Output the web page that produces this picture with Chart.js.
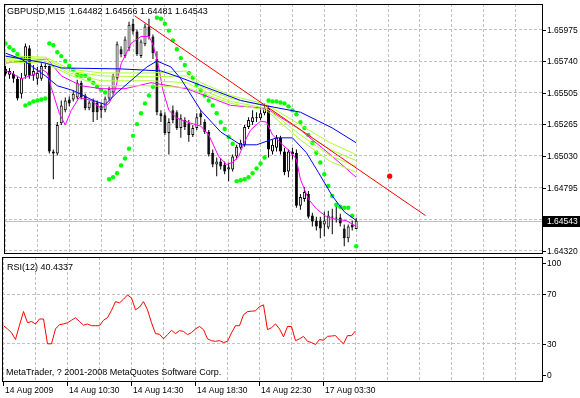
<!DOCTYPE html>
<html>
<head>
<meta charset="utf-8">
<script src="https://cdn.jsdelivr.net/npm/chart.js@4.4.0/dist/chart.umd.min.js"></script>
<style>
  html, body { margin: 0; padding: 0; background: #fff; }
  #wrap { position: relative; width: 580px; height: 398px; overflow: hidden; }
  canvas { position: absolute; left: 0; }
  #priceCanvas { top: 0; }
  #rsiCanvas { top: 256px; }
</style>
</head>
<body>
<div id="wrap">
  <canvas id="priceCanvas" width="580" height="257"></canvas>
  <canvas id="rsiCanvas" width="580" height="142"></canvas>
</div>
<script>
// GBPUSD M15 bars, 14 Aug 2009 06:30 onwards
const symbol = "GBPUSD,M15";

const opens = [
  1.65680, 1.65636, 1.65643, 1.65606, 1.65495, 1.65628, 1.65835, 1.65628, 1.65606, 1.65606,
  1.65702, 1.65702, 1.65061, 1.65046, 1.65274, 1.65370, 1.65451, 1.65451, 1.65466, 1.65577,
  1.65481, 1.65385, 1.65444, 1.65429, 1.65407, 1.65370, 1.65459, 1.65503, 1.65614, 1.65827,
  1.65776, 1.65835, 1.66019, 1.65960, 1.65776, 1.65864, 1.65997, 1.65923, 1.65754, 1.65348,
  1.65333, 1.65201, 1.65370, 1.65356, 1.65238, 1.65297, 1.65274, 1.65186, 1.65238, 1.65348,
  1.65282, 1.65208, 1.65053, 1.64965, 1.64987, 1.64965, 1.64928, 1.64928, 1.65024, 1.65090,
  1.65112, 1.65245, 1.65282, 1.65319, 1.65311, 1.65348, 1.65385, 1.65061, 1.65090, 1.65164,
  1.65061, 1.64913, 1.65061, 1.65053, 1.64655, 1.64707, 1.64744, 1.64582, 1.64545, 1.64545,
  1.64515, 1.64493, 1.64574, 1.64560, 1.64567, 1.64486, 1.64412, 1.64515, 1.64482
];
const highs = [
  1.65702, 1.65687, 1.65665, 1.65628, 1.65650, 1.65871, 1.65857, 1.65709, 1.65695, 1.65724,
  1.65724, 1.65717, 1.65076, 1.65282, 1.65444, 1.65466, 1.65473, 1.65518, 1.65599, 1.65591,
  1.65495, 1.65444, 1.65459, 1.65444, 1.65429, 1.65473, 1.65547, 1.65643, 1.65886, 1.65849,
  1.65923, 1.66034, 1.66056, 1.65975, 1.65901, 1.66019, 1.66056, 1.65938, 1.65813, 1.65370,
  1.65356, 1.65311, 1.65407, 1.65370, 1.65341, 1.65319, 1.65297, 1.65260, 1.65348, 1.65370,
  1.65304, 1.65223, 1.65076, 1.65017, 1.65009, 1.64987, 1.64980, 1.65039, 1.65112, 1.65149,
  1.65260, 1.65319, 1.65370, 1.65356, 1.65392, 1.65422, 1.65407, 1.65149, 1.65186, 1.65179,
  1.65090, 1.65076, 1.65090, 1.65076, 1.64744, 1.64795, 1.64766, 1.64604, 1.64574, 1.64574,
  1.64611, 1.64619, 1.64633, 1.64655, 1.64596, 1.64515, 1.64515, 1.64545, 1.64566
];
const lows = [
  1.65628, 1.65606, 1.65577, 1.65444, 1.65459, 1.65606, 1.65606, 1.65591, 1.65562, 1.65591,
  1.65680, 1.65046, 1.64854, 1.65031, 1.65260, 1.65356, 1.65400, 1.65437, 1.65451, 1.65451,
  1.65370, 1.65370, 1.65282, 1.65297, 1.65311, 1.65356, 1.65444, 1.65488, 1.65599, 1.65768,
  1.65761, 1.65813, 1.65938, 1.65776, 1.65761, 1.65849, 1.65901, 1.65754, 1.65333, 1.65282,
  1.65186, 1.65039, 1.65274, 1.65223, 1.65164, 1.65223, 1.65134, 1.65171, 1.65223, 1.65260,
  1.65193, 1.65024, 1.64943, 1.64876, 1.64928, 1.64891, 1.64840, 1.64913, 1.65002, 1.65076,
  1.65098, 1.65230, 1.65260, 1.65282, 1.65297, 1.65333, 1.65017, 1.65039, 1.65061, 1.65039,
  1.64884, 1.64869, 1.65002, 1.64641, 1.64626, 1.64685, 1.64560, 1.64501, 1.64471, 1.64412,
  1.64427, 1.64479, 1.64442, 1.64530, 1.64501, 1.64353, 1.64383, 1.64471, 1.64481
];
const closes = [
  1.65643, 1.65665, 1.65606, 1.65459, 1.65614, 1.65849, 1.65628, 1.65665, 1.65650, 1.65702,
  1.65695, 1.65061, 1.65046, 1.65260, 1.65407, 1.65444, 1.65422, 1.65495, 1.65577, 1.65466,
  1.65385, 1.65429, 1.65356, 1.65356, 1.65370, 1.65459, 1.65532, 1.65628, 1.65864, 1.65790,
  1.65901, 1.66011, 1.65960, 1.65790, 1.65886, 1.65997, 1.65923, 1.65798, 1.65356, 1.65326,
  1.65201, 1.65282, 1.65297, 1.65238, 1.65311, 1.65245, 1.65186, 1.65238, 1.65319, 1.65319,
  1.65208, 1.65039, 1.64965, 1.64987, 1.64950, 1.64913, 1.64943, 1.65024, 1.65098, 1.65127,
  1.65245, 1.65297, 1.65319, 1.65311, 1.65348, 1.65385, 1.65076, 1.65112, 1.65164, 1.65061,
  1.64906, 1.65061, 1.65039, 1.64655, 1.64722, 1.64759, 1.64574, 1.64538, 1.64501, 1.64486,
  1.64545, 1.64582, 1.64567, 1.64567, 1.64523, 1.64412, 1.64501, 1.64493, 1.64543
];

// Parabolic SAR, one dot per bar
const sarValues = [
  1.65871, 1.65842, 1.65820, 1.65790, 1.65761, 1.65407, 1.65422, 1.65437, 1.65444, 1.65451,
  1.65459, 1.65871, 1.65857, 1.65805, 1.65776, 1.65739, 1.65702, 1.65672, 1.65636, 1.65628,
  1.65628, 1.65606, 1.65577, 1.65547, 1.65525, 1.65503, 1.64854, 1.64869, 1.64899, 1.64957,
  1.65009, 1.65083, 1.65179, 1.65267, 1.65348, 1.65422, 1.65481, 1.65547, 1.66063, 1.66056,
  1.66019, 1.65967, 1.65894, 1.65827, 1.65761, 1.65709, 1.65650, 1.65614, 1.65562, 1.65518,
  1.65481, 1.65444, 1.65407, 1.65348, 1.65282, 1.65230, 1.65171, 1.65120, 1.64840, 1.64847,
  1.64854, 1.64869, 1.64899, 1.64935, 1.64972, 1.65017, 1.65444, 1.65437, 1.65437, 1.65429,
  1.65422, 1.65400, 1.65370, 1.65341, 1.65282, 1.65238, 1.65186, 1.65127, 1.65053, 1.64980,
  1.64891, 1.64803, 1.64729, 1.64663, 1.64648, 1.64641, 1.64641, 1.64582, 1.64353
];

// moving averages: [bar, price] vertices
const blueSlow = [[0, 1.65776], [10, 1.65724], [14, 1.65687], [29, 1.65680], [39, 1.65665], [44, 1.65614],
  [59, 1.65444], [65, 1.65407], [74, 1.65356], [82, 1.65238], [88, 1.65127]];
const blueFast = [[0, 1.65798], [4, 1.65754], [10, 1.65628], [13, 1.65554], [17, 1.65518], [22, 1.65444],
  [25, 1.65414], [28, 1.65503], [32, 1.65606], [35.5, 1.65695], [38, 1.65739], [41.5, 1.65695],
  [44, 1.65606], [49, 1.65370], [54, 1.65208], [59, 1.65112], [63, 1.65112], [68, 1.65164],
  [72, 1.65164], [75.5, 1.65053], [78.5, 1.64906], [82, 1.64729], [85, 1.64611], [88, 1.64545]];
const magentaFast = [[0, 1.65665], [1.5, 1.65650], [4, 1.65606], [7.5, 1.65643], [9, 1.65680], [10.5, 1.65650],
  [11.5, 1.65540], [13.5, 1.65348], [15, 1.65260], [16.5, 1.65370], [18.5, 1.65466], [21.5, 1.65444],
  [24, 1.65385], [26, 1.65422], [27.5, 1.65518], [29, 1.65717], [31.5, 1.65871], [34, 1.65923],
  [36, 1.65923], [37, 1.65864], [38.5, 1.65687], [39.5, 1.65518], [41, 1.65370], [43, 1.65311],
  [46.5, 1.65274], [49, 1.65252], [51, 1.65186], [53.5, 1.65024], [55.5, 1.64965], [57, 1.64980],
  [58.5, 1.65024], [60, 1.65134], [61.5, 1.65223], [64, 1.65289], [65.5, 1.65282], [67, 1.65186],
  [69.5, 1.65112], [71.5, 1.65061], [73, 1.65002], [74, 1.64854], [76, 1.64707], [78, 1.64633],
  [80.5, 1.64574], [83, 1.64553], [85.5, 1.64545], [88, 1.64501]];
const magentaSlow = [[0, 1.65724], [10.5, 1.65754], [14, 1.65628], [19, 1.65554], [24, 1.65532], [30, 1.65532],
  [36.5, 1.65577], [45.5, 1.65532], [56.5, 1.65407], [65.5, 1.65385], [74, 1.65223], [81.5, 1.65039],
  [88, 1.64869]];
const green1 = [[0, 1.65776], [10, 1.65768], [16, 1.65680], [24, 1.65650], [36.5, 1.65650], [45.5, 1.65665],
  [49, 1.65577], [56.5, 1.65481], [65.5, 1.65414], [74, 1.65260], [81.5, 1.65127], [88, 1.65039]];
const green2 = [[0, 1.65761], [10, 1.65754], [16, 1.65665], [24, 1.65628], [36.5, 1.65621], [45.5, 1.65628],
  [49, 1.65547], [56.5, 1.65459], [65.5, 1.65400], [74, 1.65223], [81.5, 1.65076], [88, 1.64994]];
const green3 = [[0, 1.65746], [10, 1.65739], [16, 1.65650], [24, 1.65591], [36.5, 1.65591], [45.5, 1.65577],
  [49, 1.65525], [56.5, 1.65437], [65.5, 1.65385], [74, 1.65186], [81.5, 1.65031], [88, 1.64950]];
const green4 = [[0, 1.65731], [10, 1.65724], [16, 1.65636], [24, 1.65554], [36.5, 1.65554], [45.5, 1.65540],
  [49, 1.65503], [56.5, 1.65422], [65.5, 1.65370], [74, 1.65149], [81.5, 1.64987], [88, 1.64906]];

// trend line and the single red marker
const trendLine = [[32.4, 1.66078], [105.4, 1.64582]];
const redMarker = [[96.4, 1.64877]];

const rsiPeriod = 12;
const rsiValues = [
  44.6, 42.0, 39.0, 33.5, 45.0, 56.0, 47.0, 48.0, 46.0, 50.0,
  50.0, 30.0, 30.0, 42.0, 45.5, 46.0, 47.0, 49.0, 51.0, 48.0,
  45.0, 46.0, 44.6, 44.6, 44.6, 49.0, 51.0, 57.0, 64.0, 63.0,
  66.0, 69.4, 67.0, 57.4, 59.6, 64.0, 57.4, 47.0, 38.2, 37.7,
  34.0, 37.4, 40.9, 38.2, 40.6, 40.0, 37.4, 39.0, 42.0, 44.0,
  41.4, 34.0, 32.5, 32.0, 32.6, 31.0, 32.0, 38.8, 44.6, 44.6,
  53.4, 56.0, 56.3, 56.6, 60.0, 61.4, 41.4, 43.0, 46.0, 42.0,
  35.6, 44.0, 44.0, 32.5, 34.0, 36.0, 32.0, 31.0, 29.4, 33.4,
  32.9, 36.0, 36.3, 36.6, 33.0, 30.0, 36.6, 36.6, 40.4337
];

// axes
const gridBars = [0, 8, 16, 24, 32, 40, 48, 56, 64, 72, 80, 88, 96, 104, 112, 120, 128];
const timeLabelBars = [0, 16, 32, 48, 64, 80];
const timeLabels = ["14 Aug 2009", "14 Aug 10:30", "14 Aug 14:30", "14 Aug 18:30", "14 Aug 22:30", "17 Aug 03:30"];
const priceTicks = [1.65975, 1.65738, 1.65502, 1.65265, 1.65029, 1.64792, 1.64555, 1.64319];
const priceTickLabels = ["1.65975", "1.65740", "1.65505", "1.65265", "1.65030", "1.64795", "1.64560", "1.64320"];
const rsiTicks = [100, 70, 30, 0];
const rsiGridLevels = [70, 30];

const GRID = "#c0c0c0";
const FONT_FAMILY = '"Liberation Sans", Arial, sans-serif';
const LABEL_FONT = "9px " + FONT_FAMILY;
const AXIS_FONT = "8.5px " + FONT_FAMILY;
const last = closes.length - 1;

function lineSet(pairs, color) {
  return {
    type: "line",
    data: pairs.map((p) => ({ x: p[0], y: p[1] })),
    borderColor: color,
    borderWidth: 1,
    pointRadius: 0,
    tension: 0,
    fill: false,
    order: 0,
  };
}

function xScale() {
  return {
    type: "linear",
    min: -0.375,
    max: 134.625,
    offset: false,
    afterBuildTicks: (s) => { s.ticks = gridBars.map((v) => ({ value: v })); },
    afterFit: (s) => { s.height = 0; },
    ticks: { display: false },
    grid: { color: GRID, drawTicks: false, offset: false },
    border: { display: false, dash: [3, 2] },
  };
}

const priceDecor = {
  id: "priceDecor",
  beforeDatasetsDraw(chart) {
    // current bid line
    const { ctx, chartArea: a, scales: { y } } = chart;
    const py = Math.round(y.getPixelForValue(closes[last])) + 0.5;
    ctx.save();
    ctx.strokeStyle = GRID;
    ctx.lineWidth = 1;
    ctx.beginPath();
    ctx.moveTo(a.left, py);
    ctx.lineTo(a.right, py);
    ctx.stroke();
    ctx.restore();
  },
  afterDraw(chart) {
    const { ctx, chartArea: a, scales: { y } } = chart;
    ctx.save();
    ctx.strokeStyle = "#000";
    ctx.lineWidth = 1;
    ctx.strokeRect(a.left + 0.5, a.top + 0.5, a.right - a.left, a.bottom - a.top);

    ctx.font = AXIS_FONT;
    ctx.fillStyle = "#000";
    ctx.textBaseline = "middle";
    priceTicks.forEach((v, k) => {
      const py = Math.round(y.getPixelForValue(v)) + 0.5;
      ctx.beginPath();
      ctx.moveTo(a.right, py);
      ctx.lineTo(a.right + 4, py);
      ctx.stroke();
      ctx.fillText(priceTickLabels[k], a.right + 5, py);
    });

    // black box with the last price
    const cy = Math.round(y.getPixelForValue(closes[last]));
    ctx.fillStyle = "#000";
    ctx.fillRect(a.right + 1, cy - 5, chart.width - a.right - 1, 11);
    ctx.fillStyle = "#fff";
    ctx.fillText(closes[last].toFixed(5), a.right + 5, cy + 0.5);

    ctx.fillStyle = "#000";
    ctx.font = LABEL_FONT;
    ctx.textBaseline = "alphabetic";
    const title = symbol + "  " + [opens[last], highs[last], lows[last], closes[last]]
      .map((v) => v.toFixed(5)).join(" ");
    ctx.fillText(title, 7, 14);
    ctx.restore();
  },
};

const rsiDecor = {
  id: "rsiDecor",
  afterDraw(chart) {
    const { ctx, chartArea: a, scales: { x, y } } = chart;
    ctx.save();
    ctx.strokeStyle = "#000";
    ctx.lineWidth = 1;
    ctx.strokeRect(a.left + 0.5, a.top + 0.5, a.right - a.left, a.bottom - a.top);

    ctx.font = AXIS_FONT;
    ctx.fillStyle = "#000";
    ctx.textBaseline = "middle";
    rsiTicks.forEach((v) => {
      const raw = y.getPixelForValue(v);
      const py = Math.round(Math.min(Math.max(raw, a.top + 6), a.bottom - 6)) + 0.5;
      ctx.beginPath();
      ctx.moveTo(a.right, py);
      ctx.lineTo(a.right + 4, py);
      ctx.stroke();
      ctx.fillText(String(v), a.right + 5, py);
    });

    ctx.textBaseline = "alphabetic";
    timeLabelBars.forEach((b, k) => {
      const px = Math.round(x.getPixelForValue(b)) - 0.5;
      ctx.beginPath();
      ctx.moveTo(px, a.bottom);
      ctx.lineTo(px, a.bottom + 5);
      ctx.stroke();
      ctx.fillText(timeLabels[k], px + 1.5, a.bottom + 12);
    });

    ctx.font = LABEL_FONT;
    ctx.fillText("RSI(" + rsiPeriod + ") " + rsiValues[last].toFixed(4), 7, a.top + 13);
    ctx.fillText("MetaTrader, ? 2001-2008 MetaQuotes Software Corp.", 6, a.bottom - 6);
    ctx.restore();
  },
};

const bars = closes.map((c, i) => i);

new Chart(document.getElementById("priceCanvas"), {
  type: "bar",
  data: {
    datasets: [
      lineSet(trendLine, "#ff0000"),
      lineSet(blueSlow, "#0000ff"),
      lineSet(blueFast, "#0000ff"),
      lineSet(green1, "#adff2f"),
      lineSet(green2, "#adff2f"),
      lineSet(green3, "#adff2f"),
      lineSet(green4, "#adff2f"),
      lineSet(magentaSlow, "#ff00ff"),
      lineSet(magentaFast, "#ff00ff"),
      {
        type: "scatter",
        data: sarValues.map((v, i) => ({ x: i, y: v })),
        backgroundColor: "#00ff00",
        borderWidth: 0,
        pointRadius: 2.2,
        order: 0,
      },
      {
        type: "scatter",
        data: redMarker.map((p) => ({ x: p[0], y: p[1] })),
        backgroundColor: "#ff0000",
        borderWidth: 0,
        pointRadius: 2.6,
        order: 0,
      },
      {
        // candle bodies
        data: bars.map((i) => ({ x: i, y: [opens[i], closes[i]] })),
        backgroundColor: bars.map((i) => (closes[i] > opens[i] ? "#ffffff" : "#000000")),
        borderColor: "#000000",
        borderWidth: 1,
        borderSkipped: false,
        barThickness: 3,
        minBarLength: 1,
        inflateAmount: 0,
        grouped: false,
        order: 1,
      },
      {
        // wicks
        data: bars.map((i) => ({ x: i, y: [lows[i], highs[i]] })),
        backgroundColor: "#000000",
        borderWidth: 0,
        barThickness: 1,
        inflateAmount: 0,
        grouped: false,
        order: 2,
      },
    ],
  },
  options: {
    responsive: false,
    animation: false,
    devicePixelRatio: 1,
    events: [],
    layout: { padding: { left: 2, top: 2, right: 38, bottom: 2 } },
    plugins: { legend: { display: false }, tooltip: { enabled: false } },
    scales: {
      x: xScale(),
      y: {
        type: "linear",
        position: "right",
        min: 1.64302,
        max: 1.66166,
        afterBuildTicks: (s) => { s.ticks = priceTicks.map((v) => ({ value: v })); },
        afterFit: (s) => { s.width = 0; },
        ticks: { display: false },
        grid: { color: GRID, drawTicks: false },
        border: { display: false, dash: [3, 2] },
      },
    },
  },
  plugins: [priceDecor],
});

new Chart(document.getElementById("rsiCanvas"), {
  type: "line",
  data: {
    datasets: [
      {
        data: rsiValues.map((v, i) => ({ x: i, y: v })),
        borderColor: "#ff0000",
        borderWidth: 1,
        pointRadius: 0,
        tension: 0,
        fill: false,
      },
    ],
  },
  options: {
    responsive: false,
    animation: false,
    devicePixelRatio: 1,
    events: [],
    layout: { padding: { left: 2, top: 1, right: 38, bottom: 17 } },
    plugins: { legend: { display: false }, tooltip: { enabled: false } },
    scales: {
      x: xScale(),
      y: {
        type: "linear",
        position: "right",
        min: 0,
        max: 100,
        afterBuildTicks: (s) => { s.ticks = rsiGridLevels.map((v) => ({ value: v })); },
        afterFit: (s) => { s.width = 0; },
        ticks: { display: false },
        grid: { color: GRID, drawTicks: false },
        border: { display: false, dash: [3, 2] },
      },
    },
  },
  plugins: [rsiDecor],
});
</script>
</body>
</html>
